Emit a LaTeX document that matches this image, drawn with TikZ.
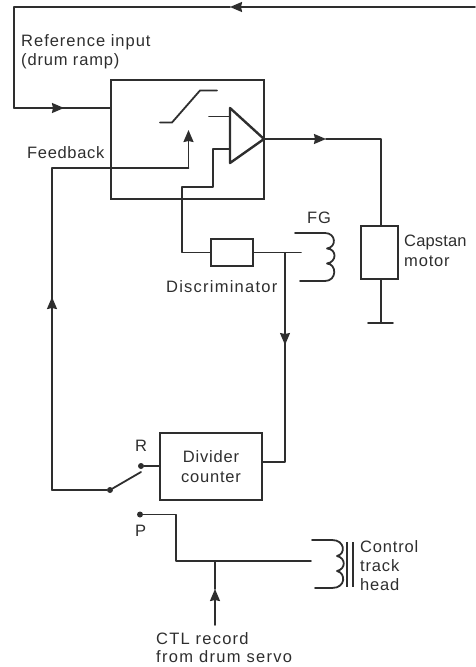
\documentclass[tikz,border=0pt]{standalone}
\usepackage{fontspec}
\setmainfont{Liberation Sans}[LetterSpace=5]
\usetikzlibrary{arrows.meta}
\definecolor{ink}{HTML}{2E2E2E}
\tikzset{
  wire/.style={draw=ink,line width=1.8pt,line join=round,line cap=round},
  thin wire/.style={draw=ink,line width=1.4pt,line join=round},
  heavy/.style={draw=ink,line width=2.4pt,line join=round},
  flow/.style={wire,-{Stealth[length=12pt,width=10pt,inset=1pt]}},
  box/.style={draw=ink,line width=2.4pt,rectangle,inner sep=0pt,minimum width=#1},
  lab/.style={anchor=base west,inner sep=0pt,text=ink,font=\fontsize{16.5}{18}\selectfont},
  labc/.style={anchor=base,inner sep=0pt,text=ink,font=\fontsize{16.5}{18}\selectfont},
  dot/.style={circle,fill=ink,inner sep=0pt,minimum size=6pt}
}
\begin{document}
\begin{tikzpicture}[x=1pt,y=-1pt]
\useasboundingbox (0,0) rectangle (475,667);
% blocks
\node[box=153pt,minimum height=119pt] (main) at (187.5,139.5) {};
\node[box=42pt,minimum height=27pt] (disc) at (232,252.5) {};
\node[box=37pt,minimum height=53pt] (motor) at (379.5,252.5) {};
\node[box=102pt,minimum height=67pt] (div) at (211,466.5) {};
% coordinates
\coordinate (topR) at (475,7);
\coordinate (topA) at (230,7);
\coordinate (topL) at (14,7);
\coordinate (refC) at (14,108);
\coordinate (refA) at (64,108);
\coordinate (refE) at (111,108);
\coordinate (swA) at (160,122.5);
\coordinate (swB) at (172,122.5);
\coordinate (swC) at (200,90.5);
\coordinate (swD) at (217,90.5);
\coordinate (triT) at (230,108);
\coordinate (triB) at (230,163);
\coordinate (triO) at (264,139);
\coordinate (inA) at (209,116.5);
\coordinate (inB) at (230,116.5);
\coordinate (inC) at (230,149);
\coordinate (inD) at (213,149);
\coordinate (inE) at (213,187);
\coordinate (inF) at (182,187);
\coordinate (inG) at (182,252.5);
\coordinate (fbTip) at (188.5,130);
\coordinate (fbC) at (188.5,168);
\coordinate (fbL) at (52,168);
\coordinate (fbA) at (52,297);
\coordinate (fbB) at (52,490);
\node[dot] (arm) at (110,490) {};
\node[dot] (R) at (141,466) {};
\node[dot] (P) at (140,514.5) {};
\coordinate (armE) at (141,472);
\coordinate (outA) at (326,139);
\coordinate (outC) at (381,139);
\coordinate (gnd) at (381,323);
\coordinate (gndL) at (368,323);
\coordinate (gndR) at (393,323);
\coordinate (fgIn) at (301,252.5);
\coordinate (jn) at (285,252.5);
\coordinate (dvA) at (285,345);
\coordinate (dvB) at (285,462);
\coordinate (dvE) at (262,462);
\coordinate (pC) at (176,514.5);
\coordinate (pD) at (176,561);
\coordinate (hdIn) at (311,561);
\coordinate (ctlJ) at (215,561);
\coordinate (ctlA) at (215,589);
\coordinate (ctlS) at (215,625);
% top and reference
\draw[flow] (topR) -- (topA);
\draw[wire] (topA) -- (topL) -- (refC) -- (refE);
\draw[flow] (refC) -- (refA);
% switch and amp
\draw[wire] (swA) -- (swB) -- (swC) -- (swD);
\draw[heavy] (triT) -- (triO) -- (triB) -- cycle;
\draw[wire] (inA) -- (inB);
\draw[wire] (inC) -- (inD) -- (inE) -- (inF) -- (inG) -- (disc.west);
% feedback
\draw[flow] (fbC) -- (fbTip);
\draw[wire] (fbC) -- (fbL) -- (fbB) -- (arm);
\draw[flow] (fbB) -- (fbA);
\draw[wire] (arm) -- (armE);
\draw[wire] (R) -- (R -| div.west);
% output and motor
\draw[flow] (triO) -- (outA);
\draw[wire] (outA) -- (outC) -- (outC |- motor.north);
\draw[wire] (gnd |- motor.south) -- (gnd);
\draw[wire] (gndL) -- (gndR);
% discriminator to FG and divider
\draw[wire] (disc.east) -- (fgIn);
\draw[thin wire] (jn) -- (dvB);
\draw[thin wire,-{Stealth[length=12pt,width=10pt,inset=1pt]}] (jn) -- (dvA);
\draw[wire] (dvB) -- (dvE);
% FG coil
\draw[wire] (295,233) -- (325,233) .. controls (336,233) and (337,247) .. (327,248.5)
  .. controls (337,249) and (337,262) .. (327,263.5)
  .. controls (337,264) and (337,281) .. (325,281) -- (300,281);
% CTL
\draw[wire] (P) -- (pC) -- (pD) -- (hdIn);
\draw[flow] (ctlS) -- (ctlA);
\draw[wire] (ctlA) -- (ctlJ);
% head coil
\draw[wire] (312,540) -- (332,540) .. controls (345,540) and (346,554) .. (337,556)
  .. controls (346,558) and (346,569) .. (337,571)
  .. controls (346,573) and (346,588) .. (332,588) -- (315,588);
\draw[thin wire] (347,542) -- (347,587);
\draw[thin wire] (353,542) -- (353,587);
% text
\node[lab] (t1) at (21,46.5) {\addfontfeature{LetterSpace=6}Reference input};
\node[lab] (t2) at (21,65) {(drum ramp)};
\node[lab] (t3) at (27,158.5) {\addfontfeature{LetterSpace=4}Feedback};
\node[lab] (t4) at (307,223) {FG};
\node[lab] (t5) at (166,292) {\addfontfeature{LetterSpace=7.5}Discriminator};
\node[lab] (t6) at (404,246.5) {\addfontfeature{LetterSpace=1}Capstan};
\node[lab] (t7) at (404,266.5) {motor};
\node[labc] (t8) at (211,462.5) {Divider};
\node[labc] (t9) at (211,482) {counter};
\node[lab] (t10) at (135,451.5) {R};
\node[lab] (t11) at (135,536.5) {P};
\node[lab] (t12) at (360,552) {Control};
\node[lab] (t13) at (360,571.5) {track};
\node[lab] (t14) at (360,590.5) {head};
\node[lab] (t15) at (156,644) {\addfontfeature{LetterSpace=7.5}CTL record};
\node[lab] (t16) at (156,662.5) {\addfontfeature{LetterSpace=8}from drum servo};
\end{tikzpicture}
\end{document}
